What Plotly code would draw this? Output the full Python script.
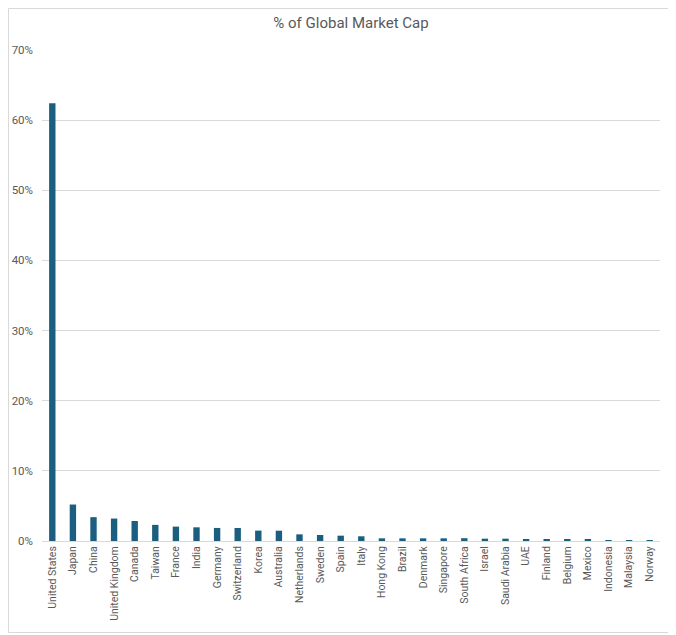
import plotly.graph_objects as go

countries = [
    "United States", "Japan", "China", "United Kingdom", "Canada", "Taiwan",
    "France", "India", "Germany", "Switzerland", "Korea", "Australia",
    "Netherlands", "Sweden", "Spain", "Italy", "Hong Kong", "Brazil",
    "Denmark", "Singapore", "South Africa", "Israel", "Saudi Arabia", "UAE",
    "Finland", "Belgium", "Mexico", "Indonesia", "Malaysia", "Norway",
]
share_pct = [
    62.4, 5.2, 3.4, 3.2, 2.85, 2.3,
    2.05, 1.95, 1.86, 1.85, 1.48, 1.47,
    0.95, 0.86, 0.76, 0.67, 0.38, 0.38,
    0.38, 0.38, 0.4, 0.33, 0.33, 0.25,
    0.22, 0.22, 0.22, 0.12, 0.12, 0.12,
]

# the page body has an 8px margin, so the figure is sized to sit inside it
W, H = 668, 627
ml, mr, mt, mb = 34, 16, 42, 94
pw = W - ml - mr
ph = H - mt - mb

fig = go.Figure()
fig.add_trace(go.Bar(
    x=countries,
    y=share_pct,
    marker=dict(color="#1b5e80", line=dict(width=0)),
))

# thin grey frame round the chart
fig.add_shape(
    type="rect", xref="paper", yref="paper",
    x0=(0.5 - ml) / pw, x1=(W - 2.5 - ml) / pw,
    y0=(-mb + 2.5) / ph, y1=(ph + mt - 0.5) / ph,
    line=dict(color="#d9d9d9", width=1), layer="below",
)

fig.update_layout(
    width=W, height=H,
    margin=dict(l=ml, r=mr, t=mt, b=mb),
    paper_bgcolor="white", plot_bgcolor="white",
    font=dict(family="Roboto, Arial, sans-serif", color="#595959", size=11),
    title=dict(text="% of Global Market Cap", x=0.5, xref="paper",
               y=1 - 15 / H, yanchor="middle",
               font=dict(size=15, color="#595959")),
    bargap=0.69,
    showlegend=False,
)
fig.update_xaxes(
    tickangle=-90, tickfont=dict(size=10.5), showgrid=False,
    showline=True, linecolor="#d9d9d9", linewidth=1, ticks="",
    automargin=False,
)
fig.update_yaxes(
    range=[0, 70], dtick=10, ticksuffix="%",
    showgrid=True, gridcolor="#d9d9d9", gridwidth=1,
    zeroline=False, ticks="", tickfont=dict(size=11.5),
    ticklabelstandoff=8, automargin=False,
)

fig.write_html("out.html")
